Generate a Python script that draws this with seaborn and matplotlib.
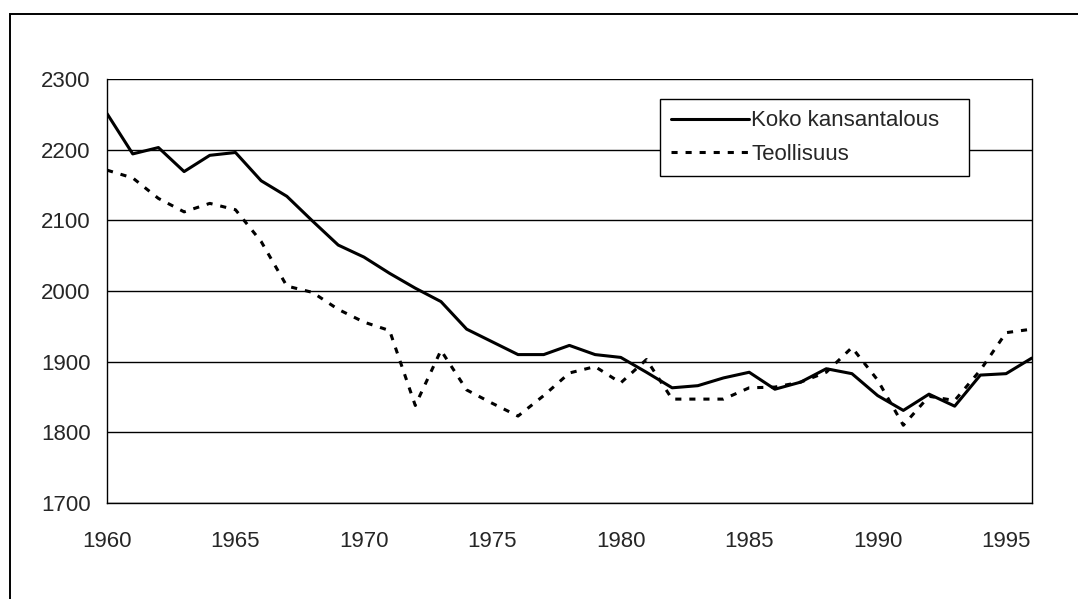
import pandas as pd
import numpy as np
import matplotlib.pyplot as plt
import seaborn as sns
from matplotlib.patches import Rectangle

# Average annual working hours, 1960-1996
years = list(range(1960, 1997))
koko = [2251, 2194, 2203, 2169, 2192, 2196, 2156, 2134, 2099, 2065,
        2048, 2025, 2004, 1985, 1946, 1928, 1910, 1910, 1923, 1910,
        1906, 1885, 1863, 1866, 1877, 1885, 1861, 1871, 1890, 1883,
        1852, 1831, 1854, 1837, 1881, 1883, 1905]
teollisuus = [2171, 2160, 2131, 2112, 2124, 2115, 2070, 2007, 1998, 1974,
              1956, 1944, 1838, 1916, 1860, 1841, 1823, 1852, 1884, 1893,
              1870, 1903, 1847, 1847, 1847, 1863, 1864, 1871, 1885, 1920,
              1874, 1810, 1851, 1845, 1888, 1941, 1946]
series_names = ['Koko kansantalous', 'Teollisuus']
y_ticks = [1700, 1800, 1900, 2000, 2100, 2200, 2300]
x_ticks = [1960, 1965, 1970, 1975, 1980, 1985, 1990, 1995]

df = pd.DataFrame({
    'vuosi': years * 2,
    'tunnit': koko + teollisuus,
    'sarja': [series_names[0]] * len(years) + [series_names[1]] * len(years),
})

sns.set_style('white')
plt.rcParams['font.family'] = ['Liberation Sans', 'DejaVu Sans']

fig = plt.figure(figsize=(10.78, 5.99), dpi=100)
ax = fig.add_axes([0.0993, 0.1603, 0.8578, 0.7078])

sns.lineplot(data=df, x='vuosi', y='tunnit', hue='sarja', style='sarja',
             palette={series_names[0]: 'black', series_names[1]: 'black'},
             dashes={series_names[0]: '', series_names[1]: (2, 2.6)},
             linewidth=2.2, ax=ax)

ax.set_xlim(1960, 1996)
ax.set_ylim(1700, 2300)
ax.set_xticks(x_ticks)
ax.set_yticks(y_ticks)
ax.set_xlabel('')
ax.set_ylabel('')
ax.grid(axis='y', color='black', linewidth=1)
ax.set_axisbelow(True)
for s in ax.spines.values():
    s.set_color('black')
    s.set_linewidth(1)
ax.spines['top'].set_visible(False)
ax.tick_params(axis='both', which='both', direction='out', length=6,
               width=1, color='black', labelsize=16, pad=6)
ax.tick_params(axis='x', pad=14)

handles, labels = ax.get_legend_handles_labels()
leg = ax.legend(handles, labels, loc='upper left',
                bbox_to_anchor=(0.598, 0.767, 0.334, 0.185), mode='expand',
                fontsize=16, frameon=True, fancybox=False, framealpha=1,
                borderaxespad=0, handlelength=3.5, handletextpad=0.1,
                labelspacing=0.55, borderpad=0.5)
leg.get_frame().set_edgecolor('black')
leg.get_frame().set_linewidth(1)
for h in leg.get_lines():
    h.set_linewidth(2.2)

# outer chart border (open to the right and bottom as in the source)
fig.patches.append(Rectangle((9.5 / 1078, -0.1), 1.2, 1 - 13.5 / 599 + 0.1,
                             transform=fig.transFigure, fill=False,
                             edgecolor='black', linewidth=1.4))

plt.savefig('out.png', dpi=100)
